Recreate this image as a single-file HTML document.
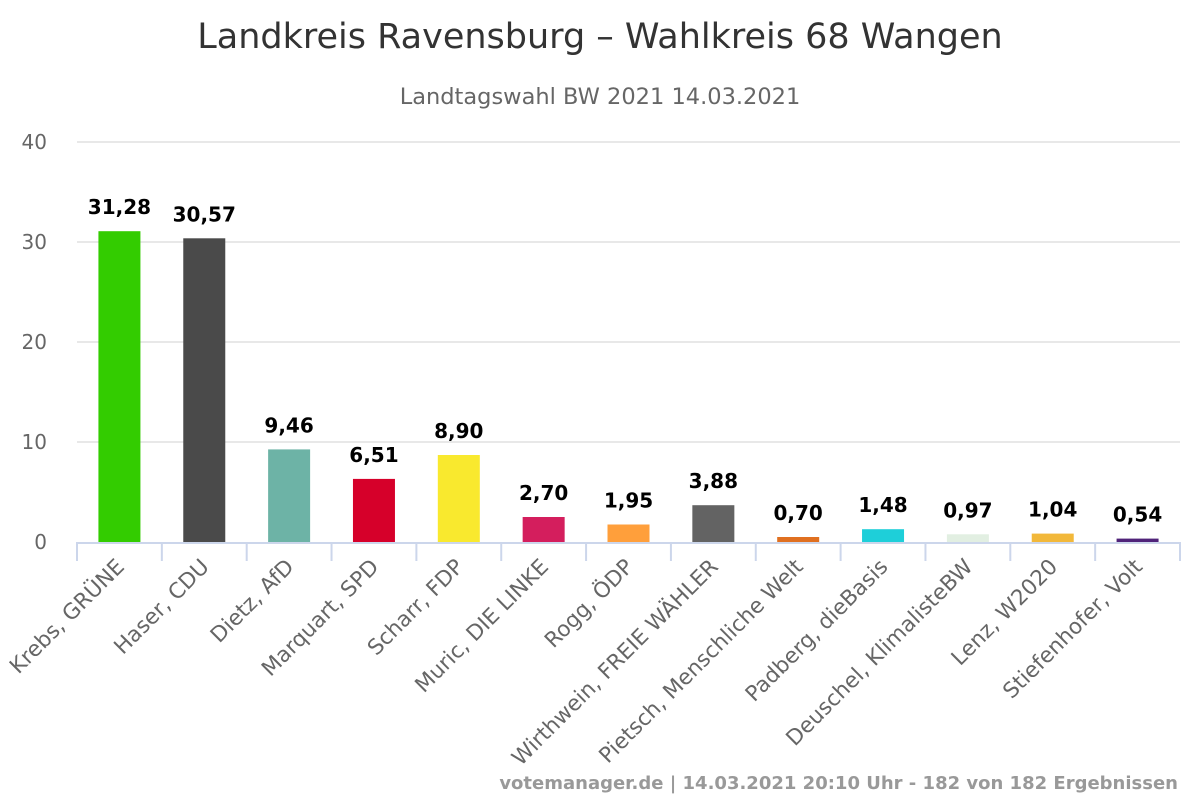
<!DOCTYPE html>
<html><head><meta charset="utf-8"><style>
body{margin:0;background:#fff}
svg{display:block;font-family:"DejaVu Sans","Liberation Sans",sans-serif}
</style></head><body>
<svg id="chart" width="1200" height="800">
<text x="600" y="48" text-anchor="middle" font-size="35" fill="#333">Landkreis Ravensburg – Wahlkreis 68 Wangen</text>
<text x="600" y="104" text-anchor="middle" font-size="22.5" fill="#666">Landtagswahl BW 2021 14.03.2021</text>
<g id="grid"></g><g id="bars"></g><g id="xlabels"></g>
<text x="1178" y="789" text-anchor="end" font-size="18" font-weight="bold" fill="#999">votemanager.de | 14.03.2021 20:10 Uhr - 182 von 182 Ergebnissen</text>
</svg>
<script>
const categories=["Krebs, GRÜNE","Haser, CDU","Dietz, AfD","Marquart, SPD","Scharr, FDP","Muric, DIE LINKE","Rogg, ÖDP","Wirthwein, FREIE WÄHLER","Pietsch, Menschliche Welt","Padberg, dieBasis","Deuschel, KlimalisteBW","Lenz, W2020","Stiefenhofer, Volt"];
const values=[31.28,30.57,9.46,6.51,8.90,2.70,1.95,3.88,0.70,1.48,0.97,1.04,0.54];
const colors=["#33cc00","#4a4a4a","#6db3a6","#d6002a","#f9e92e","#d41e5d","#ff9f3b","#636363","#e07020","#1ecfd9","#e2efe2","#f2b83a","#502379"];
const yTicks=[0,10,20,30,40];
const NS="http://www.w3.org/2000/svg";
const x0=77,x1=1180,y0=542,yMax=40,yTop=142;
const bw=(x1-x0)/categories.length;
const y=v=>y0-(v/yMax)*(y0-yTop);
const xc=i=>x0+bw*(i+0.5);
function mk(t,a,p){const e=document.createElementNS(NS,t);for(const k in a)e.setAttribute(k,a[k]);p.appendChild(e);return e;}
const grid=document.getElementById('grid'),bars=document.getElementById('bars'),xl=document.getElementById('xlabels');
yTicks.forEach(t=>{
 if(t>0){const l=mk('line',{x1:x0,x2:x1,y1:y(t),y2:y(t),stroke:'#e0e0e0','stroke-width':1.5},grid);
 
 }
 const tx=mk('text',{x:47,y:y(t)+7,'text-anchor':'end','font-size':20,fill:'#666'},grid);tx.textContent=t;
 
 
});
const ax=mk('line',{x1:x0,x2:x1,y1:y0+1,y2:y0+1,stroke:'#ccd6eb','stroke-width':2},grid);


for(let i=0;i<=categories.length;i++){const t=mk('line',{x1:x0+bw*i,x2:x0+bw*i,y1:y0,y2:y0+19,stroke:'#ccd6eb','stroke-width':2},grid);
 
 }
values.forEach((v,i)=>{
 const r=mk('rect',{x:xc(i)-21,y:y(v)+2,width:42,height:y0-y(v)-2,fill:colors[i]},bars);
 
 
 const t=mk('text',{x:xc(i),y:y(v)-15,'text-anchor':'middle','font-size':20,'font-weight':'bold',fill:'#000'},bars);
 t.textContent=v.toFixed(2).replace('.',',');
 
 
 const l=mk('text',{x:0,y:0,'text-anchor':'end','font-size':21.5,fill:'#666',transform:`translate(${xc(i)+6},${y0+26}) rotate(-45)`},xl);
 l.textContent=categories[i];
 
 
});
</script>
</body></html>
